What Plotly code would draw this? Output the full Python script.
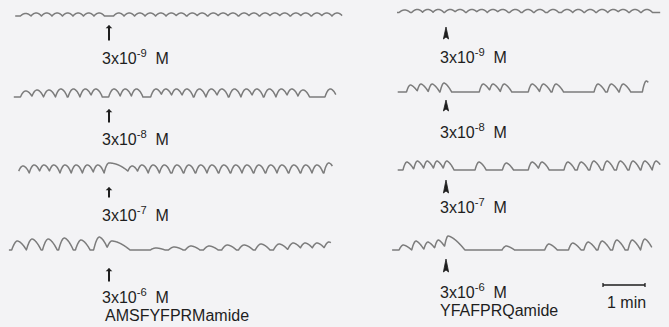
import numpy as np
import plotly.graph_objects as go

# ---------------- data (time in s relative to peptide application; amplitude in arbitrary units) -------------
# Left column: AMSFYFPRMamide
L_conc = ["3x10<sup>-9</sup>", "3x10<sup>-8</sup>", "3x10<sup>-7</sup>", "3x10<sup>-6</sup>"]
L1_span = [-134, 333]
L1_t = [-119, -104, -89, -74, -59, -44, -29, -14, 14, 29, 44, 59, 74, 89, 103, 119, 133, 149, 163,
        177, 193, 207, 223, 237, 251, 267, 281, 297, 311, 326]
L1_a = [2.5, 3, 3, 3, 3, 3, 3, 3, 3, 3, 3, 3, 3, 3, 3, 3, 3, 3, 3, 3, 3, 3, 3, 3, 3, 3, 3, 3, 3, 3]

L2_span = [-136, 324]
L2_t = [-119, -103, -86, -69, -51, -34, -19, 7, 23, 39, 67, 81, 96, 111, 129, 146, 161, 179, 196,
        211, 229, 246, 261, 277, 316]
L2_a = [6, 7, 7, 8, 8, 8, 8, 8, 8, 8, 8, 8, 8, 8, 8, 8, 8, 8, 8, 8, 8, 8, 8, 7, 8]

L3_span = [-129, 319]
L3_t = [-123, -107, -93, -79, -63, -47, -31, -16, 0, 33, 47, 63, 79, 97, 114, 131, 147, 164, 181,
        197, 214, 231, 247, 264, 281, 297, 314]
L3_a = [7, 8, 8, 8, 8, 8, 8, 8, 10, 7, 8, 8, 8, 8, 8, 8, 8, 8, 8, 8, 8, 8, 8, 8, 8, 8, 10]
L3_slow = {8: 30}

L4_span = [-143, 317]
L4_t = [-131, -110, -87, -64, -40, -14, 4, 67, 93, 117, 143, 169, 193, 217, 243, 263, 280, 297, 314]
L4_a = [9, 11, 11, 12, 10, 13, 9, 2, 3, 4, 4, 5, 5, 6, 6, 7, 7, 7, 8]
L4_slow = {6: 26}

# Right column: YFAFPRQamide
R_conc = ["3x10<sup>-9</sup>", "3x10<sup>-8</sup>", "3x10<sup>-7</sup>", "3x10<sup>-6</sup>"]
R1_span = [-70, 306]
R1_t = [-59, -41, -26, -11, 6, 20, 37, 51, 67, 81, 99, 117, 134, 153, 173, 189, 206, 223, 239,
        253, 270, 287]
R1_a = [2.5, 3, 3, 3, 3, 3, 3, 3, 3, 3, 3, 3, 3, 3, 3, 3, 3, 3, 3, 3, 3, 3]

R2_span = [-69, 289]
R2_t = [-51, -36, -20, -3, 53, 67, 83, 123, 139, 157, 217, 236, 253, 286]
R2_a = [7, 8, 8, 9, 8, 8, 8, 8, 8, 8, 8, 8, 8, 11]

R3_span = [-69, 306]
R3_t = [-56, -41, -27, -13, 1, 47, 86, 123, 137, 174, 193, 211, 230, 249, 267, 284, 300]
R3_a = [8, 9, 9, 9, 9, 8, 7, 8, 8, 8, 8, 9, 9, 9, 9, 9, 9]

R4_span = [-77, 294]
R4_t = [-61, -43, -26, -11, 3, 86, 147, 181, 203, 223, 244, 266, 284]
R4_a = [5, 9, 8, 10, 14, 4, 6, 7, 8, 9, 10, 10, 11]
R4_slow = {4: 24}

PEPTIDES = ["AMSFYFPRMamide", "YFAFPRQamide"]
SCALE_BAR_S = 60          # 1 min
SCALE_LABEL = "1 min"

# ---------------- layout / style constants ----------------
W, H = 669, 327
PX_PER_S = 42 / 60.0
SPLIT = 345
L_ARROW_PX, R_ARROW_PX = 109, 446

TRACE_COLOR = "#7c7c7c"
INK = "#1e1e1e"
BG = "#f3f3f5"
FONT = "Liberation Sans, Arial, Helvetica, sans-serif"
FS = 16

# per-row placement (pixels from top): baseline, arrow tip, arrow tail, label centre
L_rows = [dict(base=16, tip=25, tail=42, lab=57),
          dict(base=97, tip=109, tail=124, lab=138),
          dict(base=173, tip=187, tail=199, lab=214),
          dict(base=250, tip=268, tail=283, lab=296)]
R_rows = [dict(base=12.5, tip=27, tail=39, lab=56),
          dict(base=92, tip=100, tail=111, lab=131),
          dict(base=170, tip=180, tail=193, lab=206),
          dict(base=250, tip=259, tail=272, lab=291)]

# kernel styles: (rise s, decay s, rise exponent, decay exponent)
L_kern = [(7.5, 7.5, 2, 2), (7.5, 9.5, 2, 2), (7.0, 9.0, 2, 2), (8.0, 13.0, 1.8, 1.7)]
R_kern = [(8.0, 8.0, 2, 2), (5.5, 11.0, 1.8, 1.6), (5.5, 10.5, 1.8, 1.6), (6.0, 12.0, 1.8, 1.5)]


def waveform(span, peaks, amps, kern, slow=None):
    rise, decay, pr, pd = kern
    slow = slow or {}
    t = np.arange(span[0], span[1] + 0.01, 0.5)
    y = np.zeros_like(t)
    for i, (tp, a) in enumerate(zip(peaks, amps)):
        d = slow.get(i, decay)
        dt = t - tp
        k = np.where(dt < 0, 1 - np.abs(dt / rise) ** pr, 1 - np.abs(dt / d) ** pd)
        y = np.maximum(y, a * np.clip(k, 0, None))
    return t, y


fig = go.Figure()

left = [(L1_span, L1_t, L1_a, None), (L2_span, L2_t, L2_a, None),
        (L3_span, L3_t, L3_a, L3_slow), (L4_span, L4_t, L4_a, L4_slow)]
right = [(R1_span, R1_t, R1_a, None), (R2_span, R2_t, R2_a, None),
         (R3_span, R3_t, R3_a, None), (R4_span, R4_t, R4_a, R4_slow)]

annotations = []
for col, (series, rows, kerns, xa, conc, lab_shift) in enumerate([
        (left, L_rows, L_kern, "x", L_conc, -9),
        (right, R_rows, R_kern, "x2", R_conc, -8)]):
    for r, ((span, tt, aa, slow), row, kern) in enumerate(zip(series, rows, kerns)):
        t, y = waveform(span, tt, aa, kern, slow)
        fig.add_trace(go.Scatter(x=t, y=y - row["base"], mode="lines", xaxis=xa, yaxis="y",
                                 line=dict(color=TRACE_COLOR, width=1.5, shape="spline", smoothing=0.6),
                                 hoverinfo="skip"))
        # application marker
        if col == 0:
            annotations.append(dict(x=0, y=-row["tip"], xref=xa, yref="y", text="", showarrow=True,
                                    ax=0, ay=row["tail"] - row["tip"], axref="pixel", ayref="pixel",
                                    arrowhead=1, arrowsize=0.55, arrowwidth=2, arrowcolor=INK,
                                    standoff=0, startstandoff=0))
        else:
            hw = 2.6 / PX_PER_S
            fig.add_trace(go.Scatter(x=[-hw, 0, hw, 0, -hw],
                                     y=[-row["tail"], -row["tip"], -row["tail"], -row["tail"] + 2, -row["tail"]],
                                     mode="lines", fill="toself", fillcolor=INK,
                                     line=dict(color=INK, width=0.8), xaxis=xa, yaxis="y",
                                     hoverinfo="skip"))
        annotations.append(dict(x=0, y=-row["lab"], xref=xa, yref="y", xanchor="left", yanchor="middle",
                                xshift=lab_shift, showarrow=False,
                                text=conc[r] + "\u00a0\u00a0M",
                                font=dict(family=FONT, size=FS, color=INK)))

# peptide names
annotations.append(dict(x=0, y=-315, xref="x", yref="y", xanchor="left", yanchor="middle", xshift=-6,
                        showarrow=False, text=PEPTIDES[0], font=dict(family=FONT, size=FS, color=INK)))
annotations.append(dict(x=0, y=-310, xref="x2", yref="y", xanchor="left", yanchor="middle", xshift=-8,
                        showarrow=False, text=PEPTIDES[1], font=dict(family=FONT, size=FS, color=INK)))

# scale bar
sb0 = (603 - R_ARROW_PX) / PX_PER_S
sb1 = sb0 + SCALE_BAR_S
sby = -285
fig.add_trace(go.Scatter(x=[sb0, sb0, sb0, sb1, sb1, sb1], y=[sby - 2, sby + 2, sby, sby, sby + 2, sby - 2],
                         mode="lines", line=dict(color=INK, width=1.3), xaxis="x2", yaxis="y",
                         hoverinfo="skip"))
annotations.append(dict(x=(sb0 + sb1) / 2, y=-302, xref="x2", yref="y", xanchor="center", yanchor="middle",
                        xshift=2, showarrow=False, text=SCALE_LABEL, font=dict(family=FONT, size=FS, color=INK)))

fig.update_layout(
    width=W, height=H, margin=dict(l=0, r=0, t=0, b=0, pad=0),
    paper_bgcolor=BG, plot_bgcolor=BG, showlegend=False,
    xaxis=dict(domain=[0, SPLIT / W], range=[(0 - L_ARROW_PX) / PX_PER_S, (SPLIT - L_ARROW_PX) / PX_PER_S],
               visible=False, fixedrange=True),
    xaxis2=dict(domain=[SPLIT / W, 1], range=[(SPLIT - R_ARROW_PX) / PX_PER_S, (W - R_ARROW_PX) / PX_PER_S],
                visible=False, fixedrange=True, anchor="y"),
    yaxis=dict(domain=[0, 1], range=[-H, 0], visible=False, fixedrange=True),
    annotations=annotations,
)

fig.write_html("out.html")
